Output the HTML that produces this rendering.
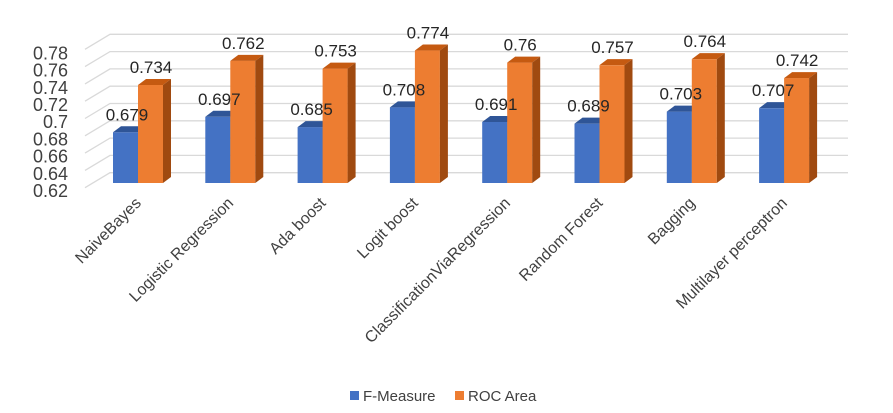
<!DOCTYPE html>
<html><head><meta charset="utf-8"><style>
body{margin:0;background:#fff;}
svg{display:block;font-family:"Liberation Sans",sans-serif;}
</style></head><body>
<svg id="chart" width="893" height="413"></svg>
<script>
const categories=["NaiveBayes","Logistic Regression","Ada boost","Logit boost","ClassificationViaRegression","Random Forest","Bagging","Multilayer perceptron"];
const fMeasure=[0.679,0.697,0.685,0.708,0.691,0.689,0.703,0.707];
const rocArea=[0.734,0.762,0.753,0.774,0.76,0.757,0.764,0.742];
const ticks=[0.62,0.64,0.66,0.68,0.7,0.72,0.74,0.76,0.78];
const NS="http://www.w3.org/2000/svg";
const svg=document.getElementById('chart');
function el(t,a,p){const e=document.createElementNS(NS,t);for(const k in a)e.setAttribute(k,a[k]);(p||svg).appendChild(e);return e;}
const backY=v=>172.7-(v-0.62)/0.02*17.3;
const frontY=v=>183-(v-0.62)*860;
const gx=i=>113+i*92.3;
for(const t of ticks){
  const y=backY(t);
  const g=el('polyline',{points:`85,${y+15} 110,${y} 848,${y}`,fill:'none',stroke:'#d9d9d9','stroke-width':1.3});
  
}
ticks.forEach(t=>{
  const tx=el('text',{x:68,y:frontY(t)+14,'text-anchor':'end','font-size':18,fill:'#404040'});
  tx.textContent=String(t);
  
});
function bar(x,v,face,top,side,name){
  const y=frontY(v),b=183,w=25,dx=8,dy=6;
  const g=el('g',{});
  
  el('rect',{x:x,y:y,width:w,height:b-y,fill:face},g);
  el('polygon',{points:`${x},${y} ${x+dx},${y-dy} ${x+w+dx},${y-dy} ${x+w},${y}`,fill:top},g);
  el('polygon',{points:`${x+w},${y} ${x+w+dx},${y-dy} ${x+w+dx},${b-dy} ${x+w},${b}`,fill:side},g);
}
categories.forEach((c,i)=>{
  const x=gx(i);
  bar(x,fMeasure[i],'#4472c4','#2f5597','#2f5597','bar-f-measure');
  bar(x+25,rocArea[i],'#ed7d31','#c55a11','#a04a10','bar-roc-area');
  const l1=el('text',{x:x+14,y:frontY(fMeasure[i])-12,'text-anchor':'middle','font-size':17,fill:'#262626'});
  l1.textContent=String(fMeasure[i]);
  
  const l2=el('text',{x:x+38,y:frontY(rocArea[i])-12,'text-anchor':'middle','font-size':17,fill:'#262626'});
  l2.textContent=String(rocArea[i]);
  
  const cx=x+29,cy=204;
  const cl=el('text',{x:cx,y:cy,'text-anchor':'end','font-size':16,fill:'#404040',transform:`rotate(-45 ${cx} ${cy})`});
  cl.textContent=c;
  
});
const lg=el('g',{});

el('rect',{x:350,y:391,width:9,height:9,fill:'#4472c4'},lg);
const t1=el('text',{x:363,y:401,'font-size':15,fill:'#404040'},lg);t1.textContent='F-Measure';

el('rect',{x:455,y:391,width:9,height:9,fill:'#ed7d31'},lg);
const t2=el('text',{x:468,y:401,'font-size':15,fill:'#404040'},lg);t2.textContent='ROC Area';

</script>
</body></html>
